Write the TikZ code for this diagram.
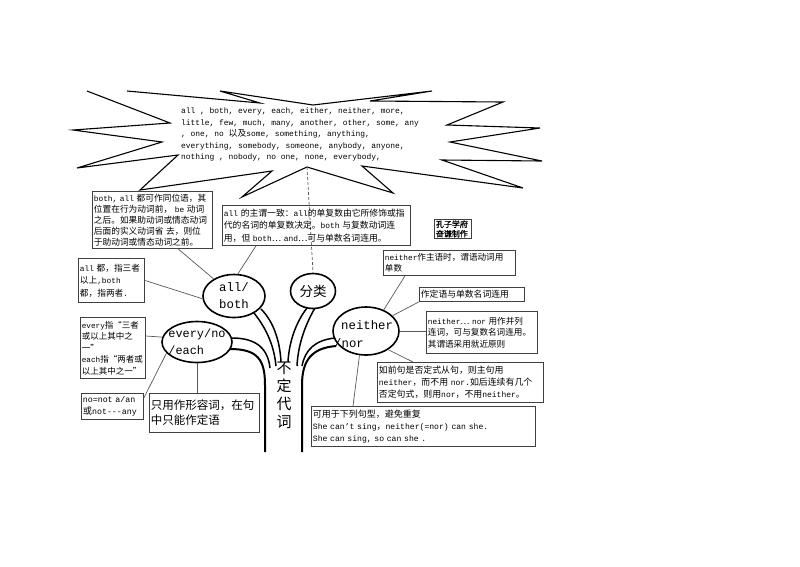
\documentclass[tikz,border=0pt]{standalone}
\usepackage{fontspec}
\setmainfont[Scale=0.9]{Liberation Mono}
\newfontfamily\cjk{Noto Sans CJK SC}
\newfontfamily\cjkbold[FakeBold=1.5]{Noto Sans CJK SC}
\newcommand\z[1]{{\cjk #1}}
\usetikzlibrary{shapes.geometric,calc}
\tikzset{
  box/.style={draw=black!75,line width=0.8pt,anchor=north west,inner xsep=1.5pt,inner ysep=0.5pt,align=left},
  conn/.style={draw=black!65,line width=0.7pt},
  ell/.style={ellipse,draw=black,line width=1.6pt,fill=white,inner sep=0pt},
  tree/.style={line width=1.5pt},
  trunk/.style={line width=2pt},
  lbl/.style={inner sep=0pt,align=left}
}
\begin{document}
\begin{tikzpicture}[x=1pt,y=-1pt]
\useasboundingbox[fill=white] (0,0) rectangle (800,566);

% star
\draw[line width=1.1pt] (127,91) -- (260,103) -- (220,91) -- (313,105) -- (432,91) -- (370,101) -- (503,102) -- (447,125) -- (540,128) -- (450,142) -- (542,161) -- (442,160) -- (523,188) -- (362,166) -- (393,193) -- (307,167) -- (242,197) -- (272,171) -- (140,190) -- (178,155) -- (77,168) -- (162,142) -- (73,130) -- (170,123) -- (87,91);
\coordinate (sv) at (307,167);
\node[lbl,anchor=north west,font=\fontsize{8.8}{11.5}\selectfont] (startext) at (181,108)
 {all , both, every, each, either, neither, more,\\
  little, few, much, many, another, other, some, any\\
  , one, no \z{以及}some, something, anything,\\
  everything, somebody, someone, anybody, anyone,\\
  nothing , nobody, no one, none, everybody,};

% tree
\draw[tree] (232,338) .. controls (258,338) and (268,350) .. (270,368);
\draw[tree] (254,313) .. controls (266,328) and (274,345) .. (276,366);
\draw[tree] (261,309) .. controls (274,322) and (280,342) .. (281,362);
\draw[trunk] (230,349) .. controls (258,349) and (265,360) .. (265,385) -- (265,452);
\draw[tree] (307,308) .. controls (296,322) and (289,342) .. (288,362);
\draw[tree] (315,308) .. controls (305,325) and (298,345) .. (297,366);
\draw[tree] (335,338) .. controls (315,340) and (305,350) .. (302,366);
\draw[trunk] (336,346) .. controls (312,348) and (302,360) .. (302,385) -- (302,452);
\node[lbl,align=center,font=\cjk\fontsize{15}{18}\selectfont] (bdz) at (284,395) {不\\定\\代\\词};

% ellipses
\node[ell,minimum width=45pt,minimum height=35pt] (fenlei) at (313,291) {};
\node[lbl,font=\cjk\fontsize{13.5}{16}\selectfont] at (fenlei) {分类};
\draw[conn,dash pattern=on 3pt off 2pt] (sv) -- (fenlei.north);

\node[ell,minimum width=62pt,minimum height=43pt] (allboth) at (234,296) {};
\node[lbl,align=center,font=\fontsize{13.7}{17}\selectfont] at (allboth) {all/\\both};

\node[ell,minimum width=70pt,minimum height=41pt] (every) at (197,342) {};
\node[lbl,font=\fontsize{13.2}{17}\selectfont] at (every) {every/no\\/each};

\node[ell,minimum width=66pt,minimum height=48pt] (neither) at (366,331) {};
\node[lbl,anchor=west,font=\fontsize{13.7}{17}\selectfont] at (341,325) {neither};
\node[lbl,anchor=west,font=\fontsize{13.7}{17}\selectfont] at (334,343) {/nor};

% boxes
\node[box,text width=117pt,minimum height=57pt,font=\fontsize{8.7}{11}\selectfont] (b1) at (92,191)
 {both, all \z{都可作同位语，其}\\
  \z{位置在行为动词前，} be \z{动词}\\
  \z{之后。如果助动词或情态动词}\\
  \z{后面的实义动词省 去，则位}\\
  \z{于助动词或情态动词之前。}};

\node[box,text width=185pt,minimum height=40pt,font=\fontsize{8.8}{12.5}\selectfont] (b2) at (222,205)
 {all \z{的主谓一致：}all\z{的单复数由它所修饰或指}\\
  \z{代的名词的单复数决定。}both \z{与复数动词连}\\
  \z{用，但} both\z{…} and\z{…可与单数名词连用。}};

\node[box,text width=34pt,minimum height=19pt,font=\cjkbold\fontsize{8}{9.5}\selectfont] (b3) at (434,219)
 {孔子学府\\奋谦制作};

\node[box,text width=129pt,minimum height=25pt,font=\fontsize{8.6}{11}\selectfont] (b4) at (383,250)
 {neither\z{作主语时，谓语动词用}\\\z{单数}};

\node[box,text width=102pt,minimum height=14pt,font=\fontsize{8.8}{11}\selectfont] (b5) at (419,287)
 {\z{作定语与单数名词连用}};

\node[box,text width=108pt,minimum height=42pt,font=\fontsize{8.6}{11.5}\selectfont] (b6) at (426,311)
 {neither\z{…} nor \z{用作并列}\\
  \z{连词，可与复数名词连用。}\\
  \z{其谓语采用就近原则}};

\node[box,text width=163pt,minimum height=40pt,font=\fontsize{8.9}{12}\selectfont] (b7) at (377,362)
 {\z{如前句是否定式从句，则主句用}\\
  neither\z{，而不用} nor.\z{如后连续有几个}\\
  \z{否定句式，则用}nor\z{，不用}neither\z{。}};

\node[box,text width=221pt,minimum height=40pt,font=\fontsize{9}{12}\selectfont] (b8) at (311,406)
 {\z{可用于下列句型，避免重复}\\
  She can't sing\z{，}neither(=nor) can she.\\
  She can sing, so can she .};

\node[box,text width=63pt,minimum height=44pt,font=\fontsize{8.7}{12.5}\selectfont] (ball) at (78,258)
 {all \z{都，指三者}\\\z{以上},both\\\z{都，指两者}.};

\node[box,text width=62pt,minimum height=61pt,font=\fontsize{8.5}{11.5}\selectfont] (bevery) at (80,317)
 {every\z{指“三者}\\
  \z{或以上其中之}\\
  \z{一”}\\
  each\z{指“两者或}\\
  \z{以上其中之一”}};

\node[box,text width=59pt,minimum height=26pt,font=\fontsize{9.2}{12}\selectfont] (bno) at (81,393)
 {no=not a/an\\\z{或}not-{}-{}-any};

\node[box,text width=107pt,minimum height=39pt,font=\cjk\fontsize{11.5}{15}\selectfont] (bonly) at (149,393)
 {只用作形容词，在句\\中只能作定语};

% connectors
\draw[conn] ($(b1.south west)+(86,0)$) -- (allboth.140);
\draw[conn] ($(b2.south west)+(34,0)$) -- (allboth.80);
\draw[conn] (ball.east) -- (allboth.185);
\draw[conn] ($(bevery.north east)+(0,19)$) -- (every.172);
\draw[conn] ($(bno.north east)+(0,5)$) -- (every.200);
\draw[conn] (every.south) -- (every.south |- bonly.north);
\draw[conn] ($(b4.south west)+(22,0)$) -- (neither.50);
\draw[conn] (b5.south west) -- (neither.30);
\draw[conn] (neither.east) -- (neither.east -| b6.west);
\draw[conn] (neither.-40) -- ($(b7.north west)+(36,0)$);
\draw[conn] (neither.-105) -- ($(b8.north west)+(42,0)$);
\end{tikzpicture}
\end{document}
